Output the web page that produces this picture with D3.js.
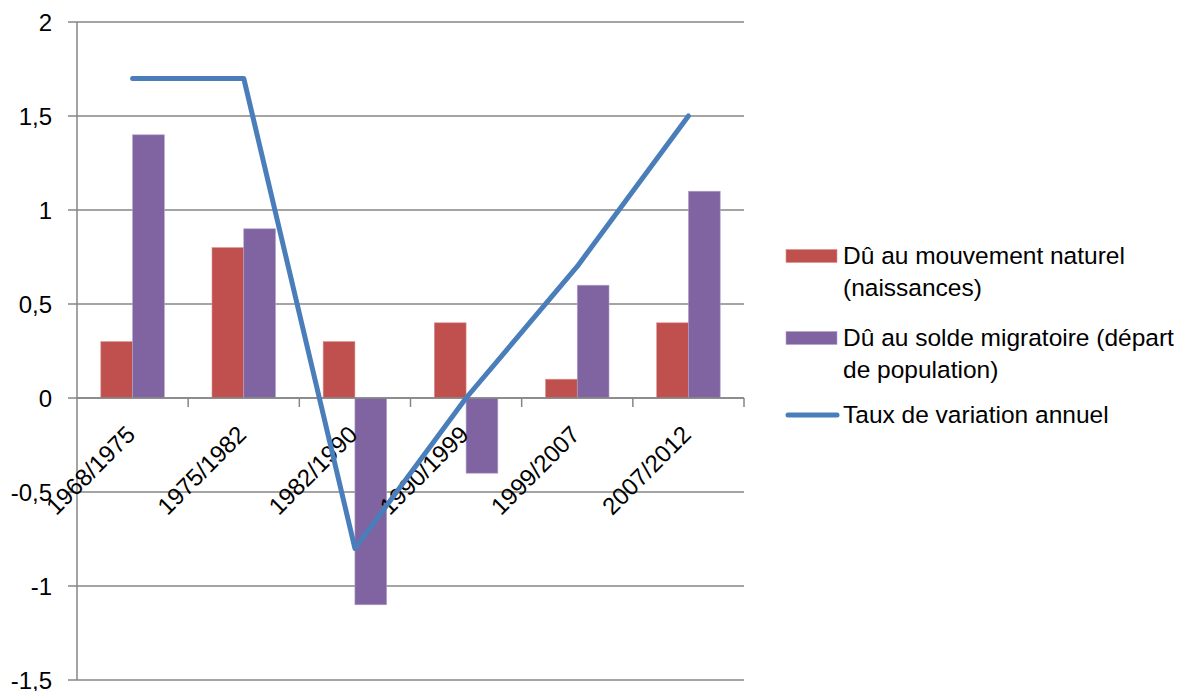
<!DOCTYPE html>
<html>
<head>
<meta charset="utf-8">
<script src="https://cdn.jsdelivr.net/npm/d3@7"></script>
<style>
	body { margin: 0; background: #fff; }
	svg text { font-family: "Liberation Sans", Arial, sans-serif; fill: #000; }
	.grid line { stroke: #868686; stroke-width: 1.5; }
	.bar-nat { fill: #C0504D; stroke: #d9928f; stroke-width: 0.6; }
	.bar-mig { fill: #8064A2; stroke: #b3a2c7; stroke-width: 0.6; }
	.taux { fill: none; stroke: #4A7EBB; stroke-width: 5; stroke-linejoin: round; stroke-linecap: round; }
</style>
</head>
<body>
<div id="chart"></div>
<script>
var periodes = ["1968/1975", "1975/1982", "1982/1990", "1990/1999", "1999/2007", "2007/2012"];
var mouvementNaturel = [0.3, 0.8, 0.3, 0.4, 0.1, 0.4];
var soldeMigratoire = [1.4, 0.9, -1.1, -0.4, 0.6, 1.1];
var tauxVariation = [1.7, 1.7, -0.8, 0, 0.7, 1.5];
var yTicks = [-1.5, -1, -0.5, 0, 0.5, 1, 1.5, 2];
var seriesNames = [
	["Dû au mouvement naturel", "(naissances)"],
	["Dû au solde migratoire (départ", "de population)"],
	["Taux de variation annuel"]
];

var width = 1181;
var height = 691;

// plot area (window.top is reserved, so no "top" here)
var plotLeft = 77, plotRight = 744, plotTop = 22, plotBottom = 680;
var fontSize = 24;
var legendFont = 24.5;

var formatTick = function(d){ return String(d).replace(".", ","); };

var svg = d3.select("#chart")
			.append("svg")
			.attr("width", width)
			.attr("height", height);

var x = d3.scaleBand()
			.domain(periodes)
			.range([plotLeft, plotRight])
			.paddingInner(0)
			.paddingOuter(0);

var y = d3.scaleLinear()
			.domain([-1.5, 2])
			.range([plotBottom, plotTop]);

// bar width like excel gap width 150%
var barW = x.bandwidth() / 3.5;

//horizontal gridlines
svg.append("g")
	.attr("class", "grid")
	.selectAll("line")
	.data(yTicks)
	.enter().append("line")
	.attr("x1", plotLeft - 9)
	.attr("x2", plotRight)
	.attr("y1", function(d){ return y(d); })
	.attr("y2", function(d){ return y(d); });

// y axis line
svg.append("g")
	.attr("class", "grid")
	.append("line")
	.attr("x1", plotLeft).attr("x2", plotLeft)
	.attr("y1", plotTop).attr("y2", plotBottom);

// y tick labels
svg.append("g")
	.selectAll("text")
	.data(yTicks)
	.enter().append("text")
	.attr("x", plotLeft - 25)
	.attr("y", function(d){ return y(d); })
	.attr("dy", "0.36em")
	.style("text-anchor", "end")
	.style("font-size", fontSize + "px")
	.text(formatTick);

// bars
var rows = periodes.map(function(p, i){ return {p: p, nat: mouvementNaturel[i], mig: soldeMigratoire[i], taux: tauxVariation[i]}; });

svg.append("g").selectAll("rect")
	.data(rows)
	.enter().append("rect")
	.attr("class", "bar-nat")
	.attr("x", function(d){ return x(d.p) + 0.75 * barW; })
	.attr("width", barW)
	.attr("y", function(d){ return y(Math.max(0, d.nat)); })
	.attr("height", function(d){ return Math.abs(y(d.nat) - y(0)); });

svg.append("g").selectAll("rect")
	.data(rows)
	.enter().append("rect")
	.attr("class", "bar-mig")
	.attr("x", function(d){ return x(d.p) + 1.75 * barW; })
	.attr("width", barW)
	.attr("y", function(d){ return y(Math.max(0, d.mig)); })
	.attr("height", function(d){ return Math.abs(y(d.mig) - y(0)); });

// x axis at zero with ticks between categories
var xAxisG = svg.append("g")
	.attr("class", "grid")
	.attr("transform", "translate(0," + y(0) + ")");
xAxisG.append("line").attr("x1", plotLeft).attr("x2", plotRight);
xAxisG.selectAll(".sep")
	.data(periodes)
	.enter().append("line")
	.attr("x1", function(d){ return x(d) + x.bandwidth(); })
	.attr("x2", function(d){ return x(d) + x.bandwidth(); })
	.attr("y1", 0)
	.attr("y2", 9);

// rotated category labels
svg.append("g").selectAll("text")
	.data(periodes)
	.enter().append("text")
	.attr("transform", function(d){ return "translate(" + (x(d) + x.bandwidth() / 2 + 4) + "," + (y(0) + 38) + ") rotate(-45)"; })
	.style("text-anchor", "end")
	.style("font-size", fontSize + "px")
	.text(function(d){ return d; });

// line
var line = d3.line()
	.x(function(d){ return x(d.p) + x.bandwidth() / 2; })
	.y(function(d){ return y(d.taux); })
	.curve(d3.curveLinear);

svg.append("path")
	.attr("class", "taux")
	.attr("d", line(rows));

// legend
var legendY = [256, 338, 415];
var legend = svg.append("g");
var swatchClass = ["bar-nat", "bar-mig"];

legendY.forEach(function(ly, i){
	if(i < 2){
		legend.append("rect")
			.attr("class", swatchClass[i])
			.attr("x", 786).attr("y", ly - 6.5)
			.attr("width", 51).attr("height", 13);
	}else{
		legend.append("line")
			.attr("class", "taux")
			.attr("x1", 788).attr("x2", 837)
			.attr("y1", ly).attr("y2", ly);
	}
	legend.append("text")
		.attr("x", 843)
		.attr("y", ly + 8)
		.style("font-size", legendFont + "px")
		.selectAll("tspan")
		.data(seriesNames[i])
		.enter().append("tspan")
		.attr("x", 843)
		.attr("dy", function(d, j){ return j == 0 ? 0 : 32; })
		.text(function(d){ return d; });
});
</script>
</body>
</html>
